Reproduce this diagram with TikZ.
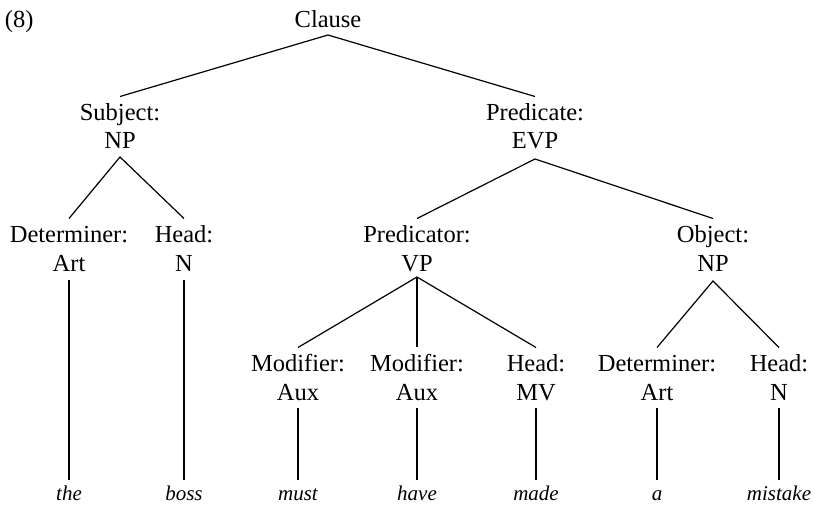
\documentclass[tikz,border=0pt]{standalone}
\usepackage{fontspec}
\setmainfont{Liberation Serif}
\begin{document}
\begin{tikzpicture}[x=1pt,y=-1pt,
  every node/.style={inner sep=0pt, outer xsep=0pt},
  fn/.style={font=\fontsize{24.5}{29}\selectfont, anchor=base,
    text height=16pt, text depth=0pt, outer ysep=8.5pt},
  cat/.style={font=\fontsize{24.5}{29}\selectfont, anchor=base,
    text height=16pt, text depth=0pt, outer ysep=8pt},
  word/.style={font=\fontsize{21}{25}\selectfont\itshape, anchor=base,
    text height=14pt, text depth=0pt, outer ysep=6pt},
  branch/.style={line width=1.2pt}]
\useasboundingbox (0,0) rectangle (815,505);

% example number and root
\node[fn, anchor=base west] (num) at (5,28) {(8)};
\node[cat, outer ysep=7pt] (clause) at (328,28) {Clause};

% first level
\node[fn]  (subjL) at (120,121) {Subject:};
\node[cat] (subj)  at (120,149) {NP};
\node[fn]  (predL) at (535,121) {Predicate:};
\node[cat, outer ysep=10pt] (pred) at (535,149) {EVP};

% second level
\node[fn]  (det1L)  at (69,243)  {Determiner:};
\node[cat] (det1)   at (69,272)  {Art};
\node[fn]  (head1L) at (184,243) {Head:};
\node[cat] (head1)  at (184,272) {N};
\node[fn]  (vpL)    at (417,243) {Predicator:};
\node[cat, outer ysep=5pt] (vp) at (417,272) {VP};
\node[fn]  (objL)   at (713,243) {Object:};
\node[cat, outer ysep=9pt] (obj) at (713,272) {NP};

% third level
\node[fn]  (mod1L)  at (298,372) {Modifier:};
\node[cat] (mod1)   at (298,400) {Aux};
\node[fn]  (mod2L)  at (417,372) {Modifier:};
\node[cat] (mod2)   at (417,400) {Aux};
\node[fn]  (mvL)    at (536,372) {Head:};
\node[cat] (mv)     at (536,400) {MV};
\node[fn]  (det2L)  at (657,372) {Determiner:};
\node[cat] (det2)   at (657,400) {Art};
\node[fn]  (head2L) at (779,372) {Head:};
\node[cat] (head2)  at (779,400) {N};

% words
\node[word] (w1) at (69,500)  {the};
\node[word] (w2) at (184,500) {boss};
\node[word] (w3) at (298,500) {must};
\node[word] (w4) at (417,500) {have};
\node[word] (w5) at (536,500) {made};
\node[word] (w6) at (657,500) {a};
\node[word] (w7) at (779,500) {mistake};

% branches
\draw[branch] (subjL.north) -- (clause.south) -- (predL.north);
\draw[branch] (det1L.north) -- (subj.south) -- (head1L.north);
\draw[branch] (vpL.north) -- (pred.south) -- (objL.north);
\draw[branch] (mod1L.north) -- (vp.south) -- (mvL.north);
\draw[branch] (vp.south) -- (mod2L.north);
\draw[branch] (det2L.north) -- (obj.south) -- (head2L.north);

% lines down to the words
\draw[branch] (det1.south)  -- (w1.north);
\draw[branch] (head1.south) -- (w2.north);
\draw[branch] (mod1.south)  -- (w3.north);
\draw[branch] (mod2.south)  -- (w4.north);
\draw[branch] (mv.south)    -- (w5.north);
\draw[branch] (det2.south)  -- (w6.north);
\draw[branch] (head2.south) -- (w7.north);
\end{tikzpicture}
\end{document}
